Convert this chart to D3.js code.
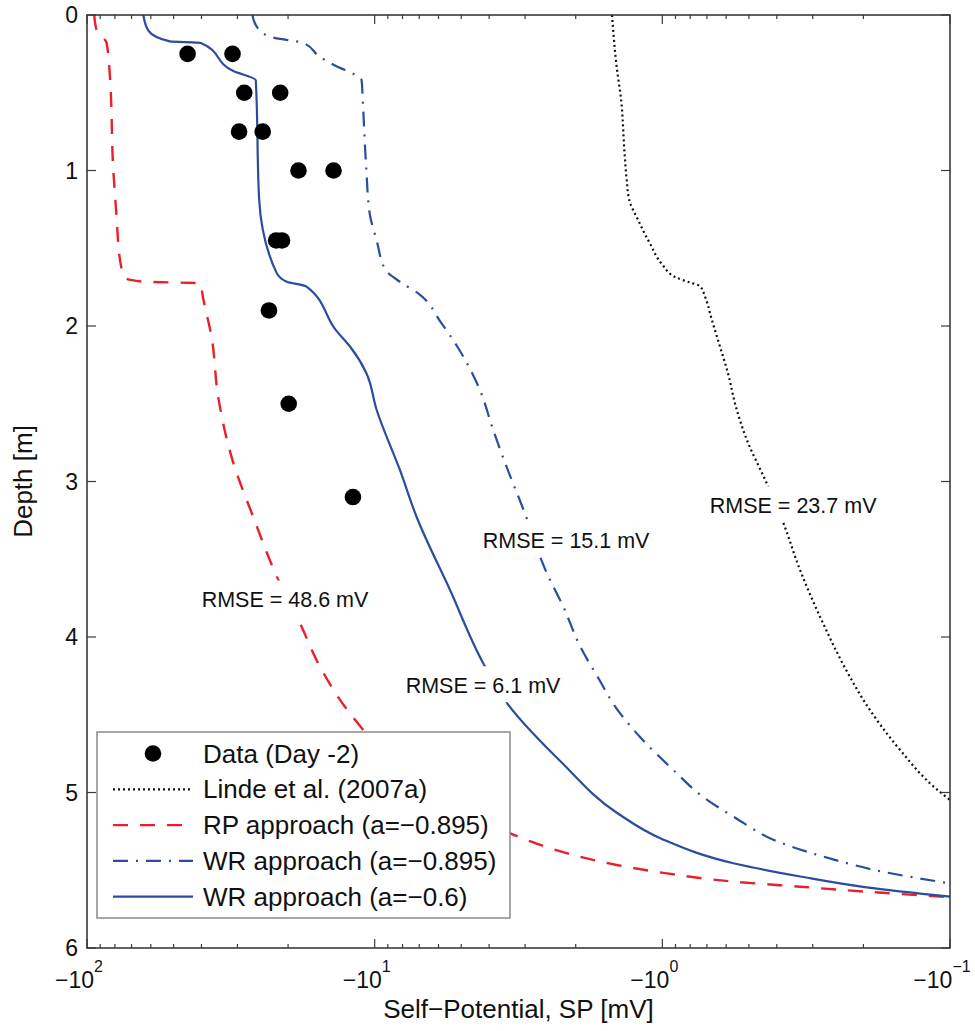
<!DOCTYPE html>
<html>
  <head>
    <style>
      body { margin: 0; background: #fff; }
      text { font-family: "Liberation Sans", Arial, Helvetica, sans-serif; fill: #111; }
    </style>
  </head>

  <body>

    <svg class="surface" width="975" height="1031"></svg>

    <script src="https://cdn.jsdelivr.net/npm/d3@7/dist/d3.min.js" charset="utf-8"></script>
    <script>

      // measured data (Day -2)
      const dataDepth = [0.25, 0.25, 0.5, 0.5, 0.75, 0.75, 1.0, 1.0, 1.45, 1.45, 1.9, 2.5, 3.1]
      const dataSP = [-44.7, -31.2, -28.4, -21.3, -29.6, -24.5, -18.4, -13.9, -22.0, -21.0, -23.3, -19.9, -11.9]

      // Linde et al. (2007a)
      const lindeDepth = [0, 0.33, 0.55, 0.87, 1.06, 1.19, 1.32, 1.47, 1.6, 1.69, 1.72, 1.743, 1.81, 1.96, 2.13, 2.3, 2.52, 2.73, 3.01, 3.27, 3.57, 3.87, 4.255, 4.405, 4.727, 4.962, 5.048]
      const lindeSP = [-1.496, -1.442, -1.39, -1.355, -1.33, -1.303, -1.213, -1.104, -1.005, -0.891, -0.802, -0.74, -0.711, -0.673, -0.631, -0.592, -0.555, -0.509, -0.434, -0.379, -0.332, -0.283, -0.223, -0.2, -0.149, -0.114, -0.1]

      // RP approach (a=-0.895)
      const rpDepth = [0, 0.1, 0.18, 0.4, 0.98, 1.3, 1.58, 1.69, 1.715, 1.725, 1.83, 2.07, 2.455, 2.88, 3.23, 3.61, 3.91, 4.19, 4.49, 4.8, 5.05, 5.305, 5.39, 5.466, 5.52, 5.573, 5.606, 5.638, 5.674]
      const rpSP = [-94.4, -92.5, -85.5, -83.2, -81.1, -78.9, -76.7, -73.8, -63.7, -40.5, -39.4, -36.9, -35.0, -31.0, -26.4, -21.9, -18.2, -15.5, -12.2, -8.51, -5.37, -2.96, -2.15, -1.44, -0.964, -0.566, -0.332, -0.195, -0.1]

      // WR approach (a=-0.895)
      const wr895Depth = [0, 0.075, 0.14, 0.18, 0.27, 0.32, 0.42, 0.55, 0.98, 1.28, 1.45, 1.64, 1.72, 1.79, 1.98, 2.14, 2.41, 2.67, 2.905, 3.18, 3.59, 3.805, 4.06, 4.28, 4.43, 4.64, 4.855, 5.03, 5.155, 5.33, 5.43, 5.51, 5.585]
      const wr895SP = [-26.6, -25.7, -23.1, -17.7, -15.5, -13.9, -11.1, -11.0, -10.7, -10.4, -9.84, -9.16, -8.11, -7.06, -5.87, -5.13, -4.31, -3.87, -3.48, -3.04, -2.52, -2.21, -1.93, -1.65, -1.48, -1.2, -0.916, -0.72, -0.566, -0.379, -0.255, -0.171, -0.1]

      // WR approach (a=-0.6)
      const wr6Depth = [0, 0.1, 0.17, 0.18, 0.36, 0.42, 1.19, 1.66, 1.715, 1.745, 2.03, 2.13, 2.3, 2.54, 2.926, 3.23, 3.698, 4.17, 4.43, 4.81, 5.13, 5.3, 5.455, 5.54, 5.61, 5.67]
      const wr6SP = [-63.7, -61.2, -51.5, -40.2, -31.0, -25.9, -25.2, -21.9, -20.2, -17.3, -13.6, -12.2, -10.7, -9.84, -8.17, -7.14, -5.47, -4.19, -3.45, -2.23, -1.44, -1.0, -0.566, -0.332, -0.195, -0.1]

      const depthTicks = [0, 1, 2, 3, 4, 5, 6]
      const rmseLabels = ['RMSE = 48.6 mV', 'RMSE = 15.1 mV', 'RMSE = 23.7 mV', 'RMSE = 6.1 mV']
      const rmseAt = [[-20.5, 3.81], [-2.16, 3.43], [-0.351, 3.204], [-4.2, 4.362]]   // [SP, depth]
      const legendNames = ['Data (Day -2)', 'Linde et al. (2007a)', 'RP approach (a=\u22120.895)', 'WR approach (a=\u22120.895)', 'WR approach (a=\u22120.6)']

      const blue = '#2a4d9f'
      const red = '#e8202a'

      const svg = d3.select('.surface')
      const x = d3.scaleLog().domain([-100, -0.1]).range([87, 950])
      const y = d3.scaleLinear().domain([0, 6]).range([15, 948])

      const series = [
        { name: legendNames[1], depth: lindeDepth, sp: lindeSP, color: '#111', width: 2.2, dash: '2,3' },
        { name: legendNames[2], depth: rpDepth, sp: rpSP, color: red, width: 2.4, dash: '15,12' },
        { name: legendNames[3], depth: wr895Depth, sp: wr895SP, color: blue, width: 2.2, dash: '15,8,2,8' },
        { name: legendNames[4], depth: wr6Depth, sp: wr6SP, color: blue, width: 2.2, dash: null }
      ]

      svg.append('clipPath').attr('id', 'plot-clip')
        .append('rect')
          .attr('x', x.range()[0]).attr('y', y.range()[0])
          .attr('width', x.range()[1] - x.range()[0])
          .attr('height', y.range()[1] - y.range()[0])

      const plot = svg.append('g').attr('clip-path', 'url(#plot-clip)')

      const line = d3.line()
        .x(d => x(d[1]))
        .y(d => y(d[0]))
        .curve(d3.curveMonotoneY)

      plot.selectAll('path.curve')
        .data(series)
        .enter()
        .append('path')
          .attr('class', 'curve')
          .attr('d', s => line(d3.zip(s.depth, s.sp)))
          .attr('fill', 'none')
          .attr('stroke', s => s.color)
          .attr('stroke-width', s => s.width)
          .attr('stroke-dasharray', s => s.dash)

      plot.selectAll('circle.obs')
        .data(d3.zip(dataDepth, dataSP))
        .enter()
        .append('circle')
          .attr('class', 'obs')
          .attr('cx', d => x(d[1]))
          .attr('cy', d => y(d[0]))
          .attr('r', 8.3)
          .attr('fill', '#000')

      // RMSE labels, white boxes hide the curves underneath
      rmseLabels.forEach((txt, i) => {
        const g = svg.append('g')
        const t = g.append('text')
          .attr('x', x(rmseAt[i][0]))
          .attr('y', y(rmseAt[i][1]))
          .attr('text-anchor', 'middle')
          .style('font-size', '21.5px')
          .text(txt)
        const b = t.node().getBBox()
        g.insert('rect', 'text')
          .attr('x', b.x - 4).attr('y', b.y - 8)
          .attr('width', b.width + 8).attr('height', b.height + 12)
          .attr('fill', '#fff')
      })

      // axes box and ticks
      const axisColor = '#3a3a3a'
      const [x0, x1] = x.range()
      const [y0, y1] = y.range()
      svg.append('rect')
        .attr('x', x0).attr('y', y0)
        .attr('width', x1 - x0).attr('height', y1 - y0)
        .attr('fill', 'none')
        .attr('stroke', axisColor)
        .attr('stroke-width', 1.6)

      const isMajor = v => Math.abs(Math.log10(-v) - Math.round(Math.log10(-v))) < 1e-6
      const xt = x.ticks()
      const ticks = svg.append('g').attr('stroke', axisColor).attr('stroke-width', 1.2)
      xt.forEach(v => {
        const len = isMajor(v) ? 9 : 4
        ticks.append('line').attr('x1', x(v)).attr('x2', x(v)).attr('y1', y1).attr('y2', y1 - len)
        ticks.append('line').attr('x1', x(v)).attr('x2', x(v)).attr('y1', y0).attr('y2', y0 + len)
      })
      depthTicks.forEach(d => {
        ticks.append('line').attr('x1', x0).attr('x2', x0 + 9).attr('y1', y(d)).attr('y2', y(d))
        ticks.append('line').attr('x1', x1).attr('x2', x1 - 9).attr('y1', y(d)).attr('y2', y(d))
      })

      svg.selectAll('text.ytick')
        .data(depthTicks)
        .enter()
        .append('text')
          .attr('class', 'ytick')
          .attr('x', x0 - 9)
          .attr('y', d => y(d))
          .attr('dy', '0.36em')
          .attr('text-anchor', 'end')
          .style('font-size', '23px')
          .text(d => d)

      const xlab = svg.selectAll('text.xtick')
        .data(xt.filter(isMajor))
        .enter()
        .append('text')
          .attr('class', 'xtick')
          .attr('x', v => x(v) - 8)
          .attr('y', 988)
          .attr('text-anchor', 'middle')
          .style('font-size', '23px')
      xlab.append('tspan').text('\u221210')
      xlab.append('tspan')
        .attr('dy', -16)
        .style('font-size', '16px')
        .text(v => {
          const e = Math.round(Math.log10(-v))
          return e < 0 ? '\u2212' + (-e) : String(e)
        })

      svg.append('text')
        .attr('x', (x0 + x1) / 2)
        .attr('y', 1018)
        .attr('text-anchor', 'middle')
        .style('font-size', '26px')
        .text('Self\u2212Potential, SP [mV]')

      svg.append('text')
        .attr('transform', `translate(32,${(y0 + y1) / 2}) rotate(-90)`)
        .attr('text-anchor', 'middle')
        .style('font-size', '26px')
        .text('Depth [m]')

      // legend
      const legend = svg.append('g').attr('transform', 'translate(97,732)')
      legend.append('rect')
        .attr('width', 413).attr('height', 186)
        .attr('fill', '#fff')
        .attr('stroke', '#8a8a8a')
        .attr('stroke-width', 1.5)

      const rows = legend.selectAll('g.row')
        .data(legendNames)
        .enter()
        .append('g')
          .attr('class', 'row')
          .attr('transform', (d, i) => `translate(0,${21.5 + i * 35.8})`)

      rows.filter((d, i) => i === 0)
        .append('circle')
          .attr('cx', 56).attr('r', 8.3).attr('fill', '#000')

      rows.filter((d, i) => i > 0)
        .append('line')
          .attr('x1', 16).attr('x2', 96)
          .attr('stroke', (d, i) => series[i].color)
          .attr('stroke-width', (d, i) => series[i].width)
          .attr('stroke-dasharray', (d, i) => series[i].dash)

      rows.append('text')
        .attr('x', 106)
        .attr('dy', '0.35em')
        .style('font-size', '26px')
        .text(d => d)

    </script>
  </body>

</html>
